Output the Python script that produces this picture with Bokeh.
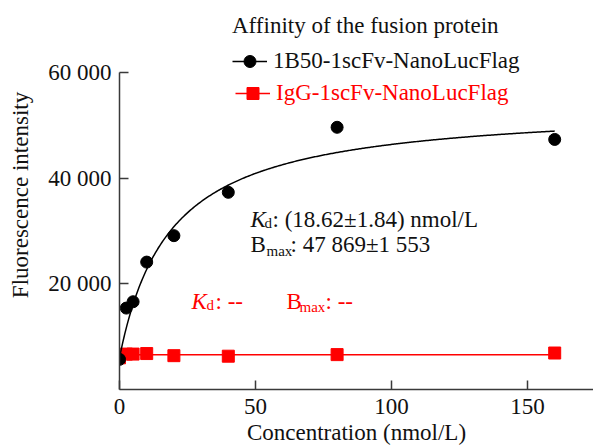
import numpy as np
from bokeh.plotting import figure
from bokeh.models import Range1d, FixedTicker, Label, Legend, LegendItem
from bokeh.embed import file_html
from bokeh.resources import INLINE

# ---- data ----
conc = [0, 2.5, 5, 10, 20, 40, 80, 160]
fusion_1b50 = [5700, 15400, 16600, 24100, 29100, 37300, 49600, 47300]
fusion_igg = [6000, 6700, 6700, 6800, 6400, 6300, 6600, 6900]
x_ticks = [0, 50, 100, 150]
y_ticks = [20000, 40000, 60000]
y_tick_labels = ["20 000", "40 000", "60 000"]
y_axis_max = 60000
KD = 18.62          # nmol/L (from chart annotation)
BMAX = 47869        # from chart annotation
B0 = 6000           # background level

FONT = "Liberation Serif"
RED = "#ff0000"
AXIS = "#3a3a3a"
TXT = "#111111"

# frame: left 119, top 0, bottom 390 (axis area 72..390 holds 0..60000)
W, H = 593, 447
LEFT, BOTTOM = 119, 57
frame_h = H - BOTTOM
axis_px = 318
y_end = y_axis_max * frame_h / axis_px
x_end = (W - LEFT) * 50 / 136.0

p = figure(width=W, height=H, x_range=Range1d(0, x_end), y_range=Range1d(0, y_end),
           output_backend="svg", toolbar_location=None,
           min_border_left=LEFT, min_border_right=0, min_border_top=0, min_border_bottom=BOTTOM)
p.outline_line_color = None
p.xgrid.visible = False
p.ygrid.visible = False
p.background_fill_color = "white"
p.border_fill_color = "white"

# red (IgG) series: flat line + squares
red_level = float(np.mean(fusion_igg))
red_line = p.line([conc[0], conc[-1]], [red_level, red_level], line_color=RED, line_width=1.5)
red_pts = p.scatter(conc, fusion_igg, marker="square", size=12, fill_color=RED, line_color=RED)

# black (1B50) series: one-site binding fit + points
xf = np.linspace(conc[0], conc[-1], 400)
yf = B0 + BMAX * xf / (KD + xf)
curve = p.line(xf, yf, line_color="black", line_width=1.5)
pts = p.scatter(conc, fusion_1b50, marker="circle", size=12, fill_color="black", line_color="black")

# axes
for ax in (p.xaxis[0], p.yaxis[0]):
    ax.axis_line_color = AXIS
    ax.axis_line_width = 1.5
    ax.major_tick_line_color = AXIS
    ax.major_tick_line_width = 1.5
    ax.major_tick_in = 9
    ax.major_tick_out = 0
    ax.minor_tick_line_color = None
    ax.major_label_text_font = FONT
    ax.major_label_text_font_size = "23px"
    ax.major_label_text_color = TXT
    ax.axis_label_text_font = FONT
    ax.axis_label_text_font_size = "23px"
    ax.axis_label_text_font_style = "normal"
    ax.axis_label_text_color = TXT

p.xaxis[0].ticker = FixedTicker(ticks=x_ticks)
p.xaxis[0].major_label_standoff = 9
p.xaxis[0].axis_label = "Concentration (nmol/L)"
p.xaxis[0].axis_label_standoff = 3
p.yaxis[0].ticker = FixedTicker(ticks=y_ticks)
p.yaxis[0].bounds = (0, y_axis_max)
p.yaxis[0].major_label_overrides = {t: s for t, s in zip(y_ticks, y_tick_labels)}
p.yaxis[0].major_label_standoff = 8
p.yaxis[0].axis_label = "Fluorescence intensity"
p.yaxis[0].axis_label_standoff = 12

# legends
leg_common = dict(border_line_color=None, background_fill_alpha=0, padding=0, margin=0,
                  spacing=0, glyph_width=35, glyph_height=30, label_standoff=6,
                  label_text_font=FONT, label_text_font_size="23px")
leg1 = Legend(items=[LegendItem(label="1B50-1scFv-NanoLucFlag", renderers=[curve, pts])],
              title="Affinity of the fusion protein", title_text_font=FONT,
              title_text_font_size="23px", title_text_font_style="normal",
              title_standoff=7, title_text_color=TXT, label_text_color=TXT,
              location=(113, 313), **leg_common)
leg2 = Legend(items=[LegendItem(label="IgG-1scFv-NanoLucFlag", renderers=[red_line, red_pts])],
              label_text_color=RED, location=(116, 281), **leg_common)
p.add_layout(leg1)
p.add_layout(leg2)

# annotations (K_d and B_max with subscripts), screen units from frame bottom-left
def lab(x, y, text, size, color, style="normal"):
    p.add_layout(Label(x=x, y=y, x_units="screen", y_units="screen", text=text,
                       text_font=FONT, text_font_size=size, text_color=color,
                       text_font_style=style, text_baseline="alphabetic"))

lab(131, 170, "K", "23px", TXT, "italic")
lab(145, 167, "d", "15px", TXT)
lab(153, 170, ": (18.62\u00b11.84) nmol/L", "23px", TXT)
lab(131, 145, "B", "23px", TXT)
lab(147, 139, "max", "15px", TXT)
lab(171, 145, ": 47 869\u00b11 553", "23px", TXT)

lab(72, 88, "K", "23px", RED, "italic")
lab(87, 85, "d", "15px", RED)
lab(96, 88, ": --", "23px", RED)
lab(167, 88, "B", "23px", RED)
lab(180, 83, "max", "15px", RED)
lab(206, 88, ": --", "23px", RED)

open("out.html", "w").write(file_html(p, INLINE))
